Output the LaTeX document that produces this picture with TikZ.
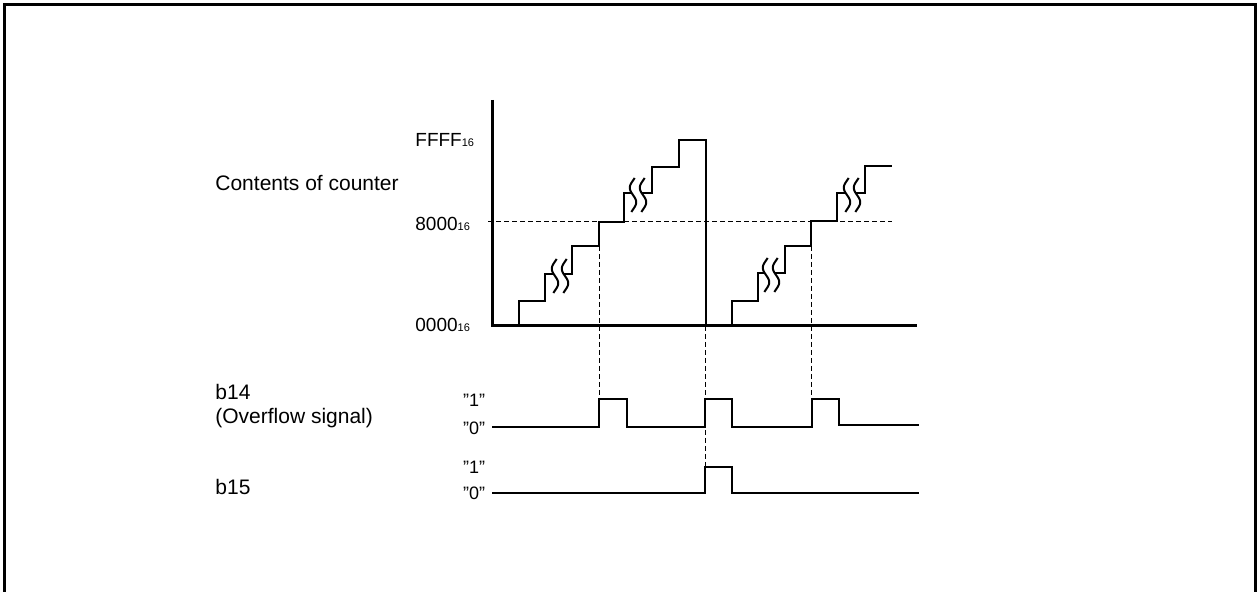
\documentclass[tikz,border=0pt]{standalone}
\usepackage{fontspec}
\setmainfont{Liberation Sans}
\newcommand{\sq}{\char34\relax}
\begin{document}
\begin{tikzpicture}[x=0.5pt,y=-0.5pt,
  lbl/.style={inner sep=0pt,font=\fontsize{10.5}{12}\selectfont,anchor=west,align=left},
  val/.style={inner sep=0pt,font=\fontsize{9.5}{11}\selectfont,anchor=west},
  lvl/.style={inner sep=0pt,font=\fontsize{9}{11}\selectfont},
  axisline/.style={line width=1.5pt},
  stair/.style={line width=1pt},
  wave/.style={line width=1pt},
  guide/.style={line width=0.5pt,dash pattern=on 2.4pt off 1.6pt},
  wiggle/.pic={
    \fill[white] plot[domain=-17:17,samples=40,smooth] ({-5+3.2*sin(\x*360/29)},\x)
      -- plot[domain=17:-17,samples=40,smooth] ({5+3.2*sin(\x*360/29)},\x) -- cycle;
    \draw[line width=1pt] plot[domain=-17:17,samples=50,smooth] ({-5+3.2*sin(\x*360/29)},\x);
    \draw[line width=1pt] plot[domain=-17:17,samples=50,smooth] ({5+3.2*sin(\x*360/29)},\x);
  }]
\useasboundingbox (0,0) rectangle (1257,592);
% frame (bottom edge outside the picture)
\draw[line width=1.5pt] (4,592) -- (4,5) -- (1255,5) -- (1255,592);

% labels
\node[lbl] (cnt) at (215,183) {Contents of counter};
\node[val] (ffff) at (415,140) {FFFF{\fontsize{5.5}{6}\selectfont 16}};
\node[val] (h8000) at (415,224) {8000{\fontsize{5.5}{6}\selectfont 16}};
\node[val] (h0000) at (415,325) {0000{\fontsize{5.5}{6}\selectfont 16}};
\node[lbl,anchor=north west] (b14) at (215,384) {b14\\(Overflow signal)};
\node[lbl] (b15) at (215,487) {b15};
\node[lvl] (one14) at (474,400) {\sq1\sq};
\node[lvl] (zero14) at (474,428) {\sq0\sq};
\node[lvl] (one15) at (474,467) {\sq1\sq};
\node[lvl] (zero15) at (474,493) {\sq0\sq};

% guides
\coordinate (g1t) at (599,222); \coordinate (g1b) at (599,399);
\coordinate (g2t) at (705,326); \coordinate (g2b) at (705,467);
\coordinate (g3t) at (811,222); \coordinate (g3b) at (811,399);
\coordinate (hl) at (488,222); \coordinate (hr) at (892,222);
\draw[guide] (hl) -- (hr);
\draw[guide] (g1t) -- (g1b);
\draw[guide] (g2t) -- (g2b);
\draw[guide] (g3t) -- (g3b);

% counter staircase
\draw[stair] (519,326) |- (545,301) |- (572,274) |- (599,246) |- (624,222)
  |- (652,193) |- (679,167) |- (706,140) -- (706,326) -- (732,326)
  |- (758,301) |- (785,273) |- (811,246) |- (837,221) |- (865,193) |- (892,166);
\pic at (560,276) {wiggle};
\pic at (638,195) {wiggle};
\pic at (771,275) {wiggle};
\pic at (852,195) {wiggle};

% axes
\coordinate (ytop) at (492,100);
\coordinate (orig) at (492,326);
\coordinate (xend) at (917,326);
\draw[axisline] (ytop) -- (orig) -- (xend);

% b14 waveform
\draw[wave] (492,427) -- (599,427) |- (627,399) |- (705,427) |- (732,399) |- (812,427) |- (839,399) |- (919,425);
% b15 waveform
\draw[wave] (492,493) -- (705,493) |- (732,467) |- (919,493);
\end{tikzpicture}
\end{document}
